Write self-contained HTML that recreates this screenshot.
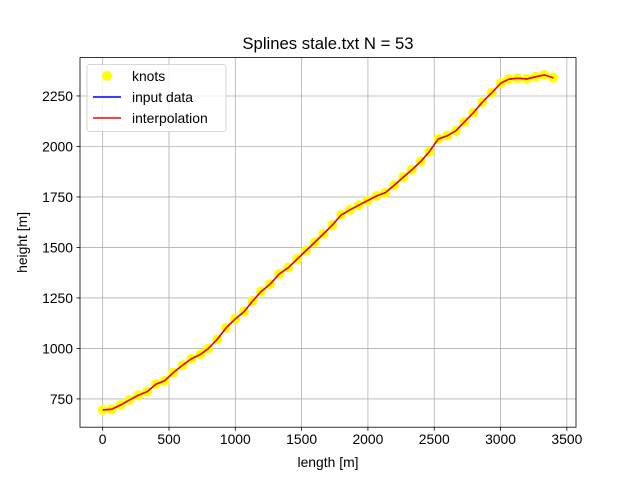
<!DOCTYPE html>
<html><head><meta charset="utf-8"><style>
body{margin:0;background:#fff;}
svg text{font-family:"Liberation Sans","DejaVu Sans",sans-serif;}
</style></head><body>
<svg id="chart" width="640" height="480" viewBox="0 0 640 480"></svg>
<script>
const lengths=[0,68,136,201,268,336,402,468,532,603,668,739,796,864,930,998,1066,1131,1194,1262,1332,1400,1468,1533,1599,1664,1732,1799,1865,1931,1998,2066,2131,2199,2267,2330,2398,2463,2531,2599,2664,2727,2795,2863,2934,3002,3062,3127,3198,3266,3330,3398];
const heights=[695,699,720,744,768,786,823,840,880,917,948,971,999,1045,1101,1145,1182,1235,1281,1318,1369,1400,1443,1484,1525,1567,1611,1661,1686,1709,1732,1755,1771,1808,1848,1884,1925,1974,2037,2053,2078,2121,2167,2219,2266,2313,2333,2338,2334,2345,2354,2340];
const xTicks=[0,500,1000,1500,2000,2500,3000,3500];
const yTicks=[750,1000,1250,1500,1750,2000,2250];
const L=80,T=57.6,W=496,H=369.6,xmin=-171,xmax=3569,ymin=610,ymax=2440;
const sx=v=>L+(v-xmin)/(xmax-xmin)*W;
const sy=v=>T+H-(v-ymin)/(ymax-ymin)*H;
const svg=document.getElementById('chart');
const NS='http://www.w3.org/2000/svg';
function mk(tag,attrs,parent){const e=document.createElementNS(NS,tag);for(const k in attrs)e.setAttribute(k,attrs[k]);(parent||svg).appendChild(e);return e;}
let e;
xTicks.forEach(v=>{const x=sx(v);
 e=mk('line',{x1:x,x2:x,y1:T,y2:T+H,stroke:'#b0b0b0','stroke-width':0.8});
 
 
 mk('line',{x1:x,x2:x,y1:T+H,y2:T+H+3.5,stroke:'#000','stroke-width':0.8});
 e=mk('text',{x:x,y:T+H+17,'text-anchor':'middle','font-size':13.9});e.textContent=v;
 
 
});
yTicks.forEach(v=>{const y=sy(v);
 e=mk('line',{x1:L,x2:L+W,y1:y,y2:y,stroke:'#b0b0b0','stroke-width':0.8});
 
 
 mk('line',{x1:L-3.5,x2:L,y1:y,y2:y,stroke:'#000','stroke-width':0.8});
 e=mk('text',{x:L-7,y:y+5,'text-anchor':'end','font-size':13.9});e.textContent=v;
 
 
});
lengths.forEach((v,i)=>{
 e=mk('circle',{cx:sx(v),cy:sy(heights[i]),r:5,fill:'#ffff00'});
 
 
});
const pts=lengths.map((v,i)=>sx(v)+','+sy(heights[i])).join(' ');
e=mk('polyline',{points:pts,fill:'none',stroke:'#0000ff','stroke-width':1.5});


e=mk('polyline',{points:pts,fill:'none',stroke:'#ff0000','stroke-width':1.5,'stroke-linejoin':'round'});


e=mk('rect',{x:L,y:T,width:W,height:H,fill:'none',stroke:'#000','stroke-width':0.8});


e=mk('text',{x:L+W/2,y:49,'text-anchor':'middle','font-size':16.7});e.textContent='Splines stale.txt N = 53';


e=mk('text',{x:L+W/2,y:467,'text-anchor':'middle','font-size':13.9});e.textContent='length [m]';


e=mk('text',{x:27,y:T+H/2,'text-anchor':'middle','font-size':13.9,transform:'rotate(-90 27 '+(T+H/2)+')'});e.textContent='height [m]';


const lg=mk('g',{});


mk('rect',{x:87,y:64.5,width:139,height:67,rx:3,fill:'#fff','fill-opacity':0.8,stroke:'#ccc','stroke-width':0.8},lg);
e=mk('circle',{cx:107,cy:76,r:5,fill:'#ffff00'},lg);


e=mk('line',{x1:93,x2:121,y1:97,y2:97,stroke:'#0000ff','stroke-width':1.5},lg);


e=mk('line',{x1:93,x2:121,y1:118,y2:118,stroke:'#ff0000','stroke-width':1.5},lg);


[['knots',81],['input data',102],['interpolation',123]].forEach(([t,y])=>{
 e=mk('text',{x:132,y:y,'font-size':13.9},lg);e.textContent=t;
 
 
});
</script>
</body></html>
